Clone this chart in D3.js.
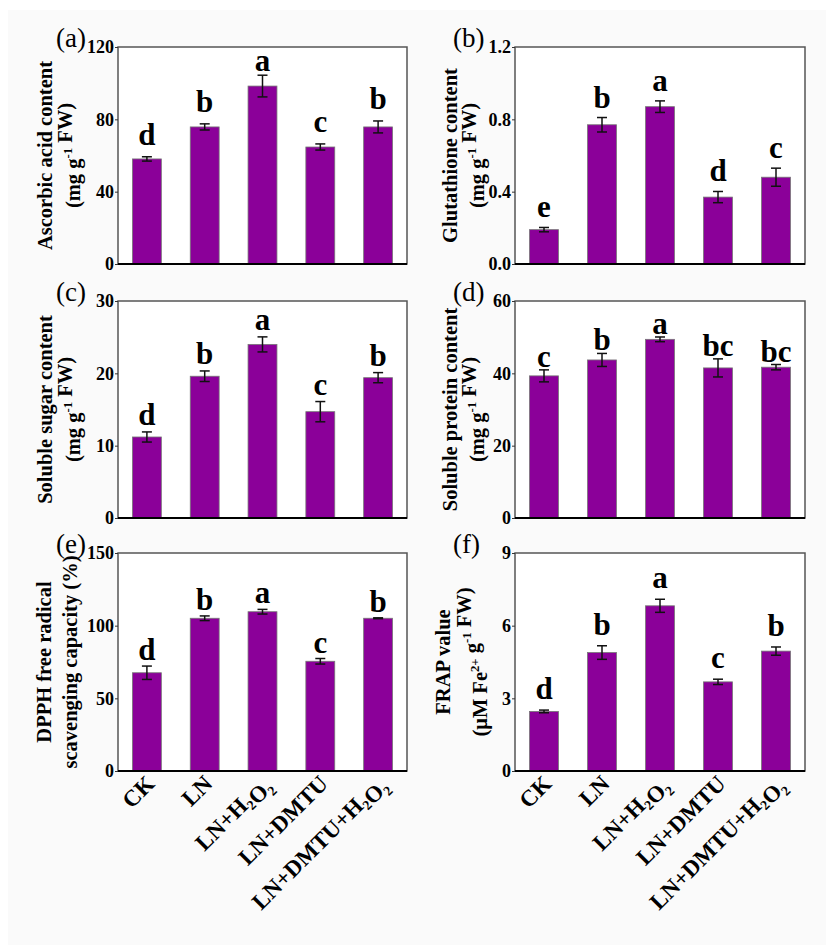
<!DOCTYPE html>
<html lang="en">
<head>
  <meta charset="UTF-8">
  <title>Antioxidant bar panels</title>
  <script src="https://d3js.org/d3.v7.min.js"></script>
  <style>
    body {
      margin: 0;
      padding: 0;
      background: #fff;
    }
    svg text {
      font-family: "Liberation Serif", "Times New Roman", serif;
    }
  </style>
</head>
<body>
  <div id="chart"></div>

  <script>
    const groups = ["CK", "LN", "LN+H2O2", "LN+DMTU", "LN+DMTU+H2O2"];

    const ascorbic = [58.1, 75.8, 98.4, 64.7, 75.8];
    const ascorbicErr = [1.2, 1.7, 6.0, 1.7, 3.3];
    const ascorbicSig = ["d", "b", "a", "c", "b"];

    const glutathione = [0.19, 0.77, 0.87, 0.37, 0.48];
    const glutathioneErr = [0.012, 0.04, 0.032, 0.031, 0.05];
    const glutathioneSig = ["e", "b", "a", "d", "c"];

    const sugar = [11.2, 19.6, 24.0, 14.7, 19.4];
    const sugarErr = [0.7, 0.73, 1.04, 1.4, 0.7];
    const sugarSig = ["d", "b", "a", "c", "b"];

    const protein = [39.3, 43.7, 49.4, 41.5, 41.7];
    const proteinErr = [1.66, 1.8, 0.65, 2.5, 0.74];
    const proteinSig = ["c", "b", "a", "bc", "bc"];

    const dpph = [67.6, 105.1, 109.6, 75.5, 105.1];
    const dpphErr = [4.6, 1.6, 1.6, 1.9, 0.3];
    const dpphSig = ["d", "b", "a", "c", "b"];

    const frap = [2.46, 4.89, 6.82, 3.68, 4.95];
    const frapErr = [0.055, 0.28, 0.27, 0.11, 0.17];
    const frapSig = ["d", "b", "a", "c", "b"];

    // title lines: arrays of [text, "sup"|undefined] pieces
    const panels = [
      { tag: "(a)", vals: ascorbic, err: ascorbicErr, sig: ascorbicSig, max: 120, ticks: [0, 40, 80, 120], fmt: d3.format("d"),
        title: [[["Ascorbic acid content"]], [["(mg g"], ["-1", "sup"], [" FW)"]]], col: 0, row: 0, gap: 12, tOff: [-66, -38] },
      { tag: "(b)", vals: glutathione, err: glutathioneErr, sig: glutathioneSig, max: 1.2, ticks: [0, 0.4, 0.8, 1.2], fmt: d3.format(".1f"),
        title: [[["Glutathione content"]], [["(mg g"], ["-1", "sup"], [" FW)"]]], col: 1, row: 0, gap: 10, tOff: [-58, -31] },
      { tag: "(c)", vals: sugar, err: sugarErr, sig: sugarSig, max: 30, ticks: [0, 10, 20, 30], fmt: d3.format("d"),
        title: [[["Soluble sugar content"]], [["(mg g"], ["-1", "sup"], [" FW)"]]], col: 0, row: 1, gap: 7, tOff: [-66, -38] },
      { tag: "(d)", vals: protein, err: proteinErr, sig: proteinSig, max: 60, ticks: [0, 20, 40, 60], fmt: d3.format("d"),
        title: [[["Soluble protein content"]], [["(mg g"], ["-1", "sup"], [" FW)"]]], col: 1, row: 1, gap: 3, tOff: [-58, -31] },
      { tag: "(e)", vals: dpph, err: dpphErr, sig: dpphSig, max: 150, ticks: [0, 50, 100, 150], fmt: d3.format("d"),
        title: [[["DPPH free radical"]], [["scavenging capacity (%)"]]], col: 0, row: 2, gap: 6, tOff: [-67, -41] },
      { tag: "(f)", vals: frap, err: frapErr, sig: frapSig, max: 9, ticks: [0, 3, 6, 9], fmt: d3.format("d"),
        title: [[["FRAP value"]], [["(\u03bcM Fe"], ["2+", "sup"], [" g"], ["-1", "sup"], [" FW)"]]], col: 1, row: 2, gap: 11, tOff: [-65, -28] }
    ];

    const colX = [[118, 407], [515, 805]];
    const rowY = [[47, 264], [301, 518], [553, 771]];
    const barColor = "#8b0099";

    const svg = d3.select("#chart").append("svg")
      .attr("width", 826)
      .attr("height", 945);

    svg.append("rect")
      .attr("x", 8).attr("y", 10)
      .attr("width", 818).attr("height", 935)
      .attr("fill", "#fafafa");

    // write a label that may hold sub/superscripts
    function richText(sel, pieces, size) {
      pieces.forEach(p => {
        const t = sel.append("tspan").text(p[0]);
        if (p[1] === "sup") {
          t.attr("font-size", size * 0.62).attr("dy", -size * 0.38);
          sel.append("tspan").attr("dy", size * 0.38).text("");
        } else if (p[1] === "sub") {
          t.attr("font-size", size * 0.6).attr("dy", size * 0.2);
          sel.append("tspan").attr("dy", -size * 0.2).text("");
        }
      });
    }

    function groupPieces(name) {
      return name.split(/(2)/).filter(s => s !== "").map(s => s === "2" ? [s, "sub"] : [s]);
    }

    panels.forEach(p => {
      const [x0, x1] = colX[p.col];
      const [y0, y1] = rowY[p.row];

      const x = d3.scaleBand()
        .domain(groups)
        .range([x0, x1])
        .paddingInner(0.5)
        .paddingOuter(0.25);

      const y = d3.scaleLinear()
        .domain([0, p.max])
        .range([y1, y0]);

      const g = svg.append("g");

      g.append("rect")
        .attr("x", x0).attr("y", y0)
        .attr("width", x1 - x0).attr("height", y1 - y0)
        .attr("fill", "#fff")
        .attr("stroke", "#555")
        .attr("stroke-width", 1.5);

      const rows = groups.map((name, i) => ({ name, v: p.vals[i], e: p.err[i], s: p.sig[i] }));

      g.selectAll(".bar")
        .data(rows)
        .join("rect")
        .attr("class", "bar")
        .attr("x", d => x(d.name))
        .attr("y", d => y(d.v))
        .attr("width", x.bandwidth())
        .attr("height", d => y(0) - y(d.v))
        .attr("fill", barColor)
        .attr("stroke", "#777")
        .attr("stroke-width", 0.8);

      // error bars
      const eb = g.selectAll(".err")
        .data(rows)
        .join("g")
        .attr("class", "err")
        .attr("stroke", "#111")
        .attr("stroke-width", 1.5);
      const cx = d => x(d.name) + x.bandwidth() / 2;
      eb.append("line")
        .attr("x1", cx).attr("x2", cx)
        .attr("y1", d => y(d.v - d.e)).attr("y2", d => y(d.v + d.e));
      eb.append("line")
        .attr("x1", d => cx(d) - 5).attr("x2", d => cx(d) + 5)
        .attr("y1", d => y(d.v + d.e)).attr("y2", d => y(d.v + d.e));
      eb.append("line")
        .attr("x1", d => cx(d) - 5).attr("x2", d => cx(d) + 5)
        .attr("y1", d => y(d.v - d.e)).attr("y2", d => y(d.v - d.e));

      // significance letters
      g.selectAll(".sig")
        .data(rows)
        .join("text")
        .attr("class", "sig")
        .attr("x", cx)
        .attr("y", d => Math.max(y0 + 24, y(d.v + d.e) - p.gap))
        .attr("text-anchor", "middle")
        .attr("font-size", 31)
        .attr("font-weight", "bold")
        .text(d => d.s);

      // y axis
      const axis = g.append("g")
        .attr("transform", `translate(${x0},0)`)
        .call(d3.axisLeft(y).tickValues(p.ticks).tickFormat(p.fmt).tickSize(3).tickPadding(1));
      axis.select(".domain").remove();
      axis.selectAll(".tick line").attr("stroke", "#333");
      axis.selectAll(".tick text")
        .attr("font-size", 18)
        .attr("font-weight", "bold")
        .attr("fill", "#000")
        .attr("font-family", "'Liberation Serif', 'Times New Roman', serif");

      g.append("line")
        .attr("x1", x0).attr("x2", x1)
        .attr("y1", y1).attr("y2", y1)
        .attr("stroke", "#000")
        .attr("stroke-width", 2);

      // panel tag
      g.append("text")
        .attr("x", x0 - 62)
        .attr("y", y0)
        .attr("font-size", 27)
        .text(p.tag);

      // y title
      const cy = (y0 + y1) / 2;
      p.title.forEach((line, li) => {
        const lx = x0 + p.tOff[li];
        const t = g.append("text")
          .attr("transform", `translate(${lx},${cy}) rotate(-90)`)
          .attr("text-anchor", "middle")
          .attr("font-size", 20.5)
          .attr("font-weight", "bold");
        richText(t, line, 20.5);
      });

      // x labels only on the bottom row
      if (p.row === 2) {
        groups.forEach(name => {
          const t = g.append("text")
            .attr("transform", `translate(${x(name) + x.bandwidth() / 2 + 9},${y1 + 14}) rotate(-45)`)
            .attr("text-anchor", "end")
            .attr("font-size", 23)
            .attr("font-weight", "bold");
          richText(t, groupPieces(name), 23);
        });
      }
    });
  </script>
</body>
</html>
